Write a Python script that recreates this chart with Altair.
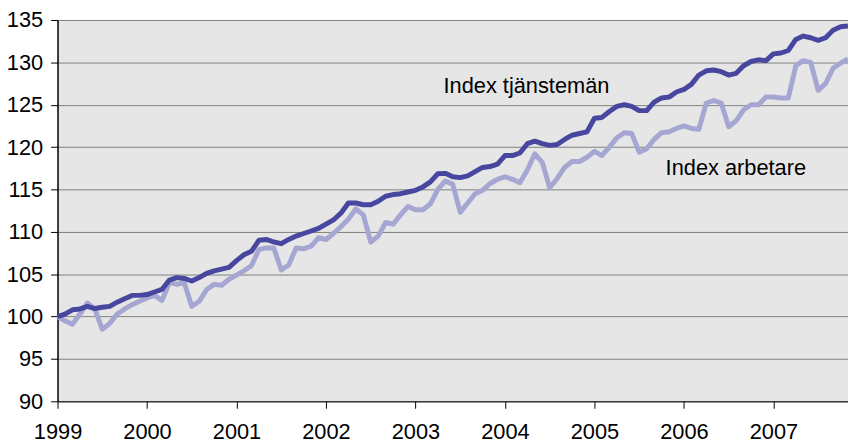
import altair as alt
import pandas as pd

# Monthly index values, Jan 1999 .. Nov 2007 (1999 = 100)
tjanstemannen = [
    100.0, 100.3, 100.8, 100.9, 101.2, 100.95, 101.1, 101.2, 101.7, 102.1, 102.5, 102.5,
    102.6, 102.9, 103.2, 104.3, 104.6, 104.5, 104.2, 104.6, 105.1, 105.4, 105.6, 105.8,
    106.6, 107.3, 107.7, 109.0, 109.1, 108.8, 108.6, 109.1, 109.5, 109.8, 110.1, 110.4,
    110.9, 111.4, 112.2, 113.4, 113.4, 113.2, 113.2, 113.6, 114.2, 114.4, 114.5, 114.7,
    114.9, 115.3, 115.9, 116.85, 116.9, 116.5, 116.4, 116.6, 117.1, 117.6, 117.7, 118.0,
    119.0, 119.0, 119.3, 120.4, 120.7, 120.4, 120.2, 120.3, 120.9, 121.4, 121.6, 121.8,
    123.4, 123.5, 124.2, 124.8, 125.0, 124.8, 124.3, 124.3, 125.3, 125.8, 125.9, 126.5,
    126.8, 127.4, 128.5, 129.0, 129.1, 128.9, 128.5, 128.7, 129.6, 130.1, 130.3, 130.2,
    131.0, 131.1, 131.4, 132.7, 133.1, 132.9, 132.6, 132.9, 133.8, 134.2, 134.3,
]
arbetare = [
    100.0, 99.5, 99.1, 100.3, 101.6, 100.9, 98.5, 99.2, 100.3, 100.9, 101.4, 101.8,
    102.2, 102.5, 101.9, 104.0, 103.8, 104.0, 101.2, 101.8, 103.2, 103.8, 103.7, 104.4,
    104.9, 105.4, 106.0, 107.9, 108.1, 108.1, 105.5, 106.1, 108.1, 108.0, 108.3, 109.3,
    109.1, 109.8, 110.6, 111.5, 112.7, 112.0, 108.8, 109.5, 111.1, 110.9, 112.0, 113.0,
    112.6, 112.6, 113.3, 115.0, 116.0, 115.6, 112.3, 113.4, 114.5, 114.9, 115.7, 116.2,
    116.5, 116.2, 115.8, 117.3, 119.2, 118.2, 115.2, 116.3, 117.6, 118.3, 118.3, 118.8,
    119.5, 119.0, 120.0, 121.1, 121.7, 121.6, 119.4, 119.8, 120.9, 121.7, 121.8, 122.2,
    122.5, 122.2, 122.1, 125.2, 125.5, 125.2, 122.4, 123.1, 124.4, 125.0, 125.0, 125.9,
    125.9, 125.8, 125.8, 129.6, 130.2, 130.0, 126.7, 127.5, 129.3, 129.9, 130.4,
]
year_ticks = [1999, 2000, 2001, 2002, 2003, 2004, 2005, 2006, 2007]
y_ticks = [90, 95, 100, 105, 110, 115, 120, 125, 130, 135]

series_names = ["Index arbetare", "Index tjänstemän"]
label_x = [2006.58, 2004.24]
label_y = [116.65, 126.35]

n = len(tjanstemannen)
months = [1999 + i / 12 for i in range(n)]

df = pd.DataFrame({
    "t": months * 2,
    "v": arbetare + tjanstemannen,
    "serie": ["Index arbetare"] * n + ["Index tjänstemän"] * n,
    "ord": [0] * n + [1] * n,
})
labels = pd.DataFrame({"t": label_x, "v": label_y, "txt": series_names})

FONT = "Liberation Sans"
FS = 22
x_dom = [1999, months[-1]]

xenc = alt.X("t:Q", scale=alt.Scale(domain=x_dom, nice=False, zero=False),
             axis=alt.Axis(values=year_ticks, format="d", title=None, grid=False,
                           domainColor="black", domainWidth=1, tickColor="black",
                           tickWidth=1, tickSize=7, labelPadding=14,
                           labelFont=FONT, labelFontSize=FS, labelColor="black",
                           labelFlush=False, labelOverlap=False))
yenc = alt.Y("v:Q", scale=alt.Scale(domain=[90, 135], nice=False, zero=False),
             axis=alt.Axis(values=y_ticks, title=None, grid=True, gridColor="#808080",
                           gridWidth=1, domainColor="black", domainWidth=1.5,
                           tickColor="black", tickWidth=1, tickSize=7, labelPadding=8,
                           labelFont=FONT, labelFontSize=FS, labelColor="black"))

lines = alt.Chart(df).mark_line(strokeWidth=5, strokeJoin="round").encode(
    x=xenc,
    y=yenc,
    color=alt.Color("serie:N", scale=alt.Scale(domain=series_names,
                                                range=["#A6A6D3", "#4747A0"]), legend=None),
    order=alt.Order("ord:Q"),
    detail="serie:N",
)

text = alt.Chart(labels).mark_text(font=FONT, fontSize=FS, color="black",
                                   align="center", baseline="alphabetic").encode(
    x=alt.X("t:Q", scale=alt.Scale(domain=x_dom, nice=False, zero=False)),
    y=alt.Y("v:Q", scale=alt.Scale(domain=[90, 135], nice=False, zero=False)),
    text="txt:N",
)

chart = (lines + text).properties(
    width=798, height=385,
    autosize=alt.AutoSizeParams(type="none"),
    padding={"left": 50, "top": 10, "right": 0, "bottom": 41},
    background="white",
).configure_view(fill="#E6E6E6", strokeWidth=0)

chart.save("out.html", embed_options={"renderer": "svg", "actions": False})
